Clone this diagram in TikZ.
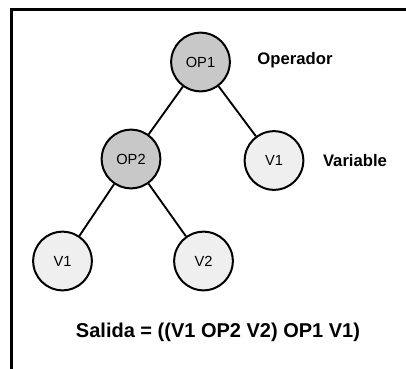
\documentclass[tikz,border=0pt]{standalone}
\usepackage{fontspec}
\setmainfont{Liberation Sans}
\definecolor{opgray}{HTML}{C8C8C8}
\definecolor{vargray}{HTML}{EFEFEF}

\begin{document}
\begin{tikzpicture}[x=0.75pt, y=-0.75pt,
  treenode/.style={draw, circle, line width=1.5pt, minimum size=44pt, inner sep=0pt, font=\fontsize{11}{13}\selectfont},
  opnode/.style={treenode, fill=opgray},
  varnode/.style={treenode, fill=vargray},
  tag/.style={font=\fontsize{12.5}{15}\selectfont\bfseries}]

\useasboundingbox (0,0) rectangle (406,368);
\draw[line width=2.4pt] (11.5,380) -- (11.5,9.5) -- (420,9.5);

\node (op1) [opnode] at (200.5,62) {OP1};
\node (op2) [opnode] at (131,159) {OP2};
\node (v1r) [varnode] at (274,160.5) {V1};
\node (v1l) [varnode] at (62.5,261) {V1};
\node (v2) [varnode] at (203.5,261) {V2};

\node (operador) [tag] at (295,60) {Operador};
\node (variable) [tag] at (355,161) {Variable};
\node (salida) [font=\fontsize{15}{18}\selectfont\bfseries] at (218,332) {Salida = ((V1 OP2 V2) OP1 V1)};

\draw[line width=1.4pt] (op1) -- (op2);
\draw[line width=1.4pt] (op1) -- (v1r);
\draw[line width=1.4pt] (op2) -- (v1l);
\draw[line width=1.4pt] (op2) -- (v2);

\end{tikzpicture}
\end{document}
